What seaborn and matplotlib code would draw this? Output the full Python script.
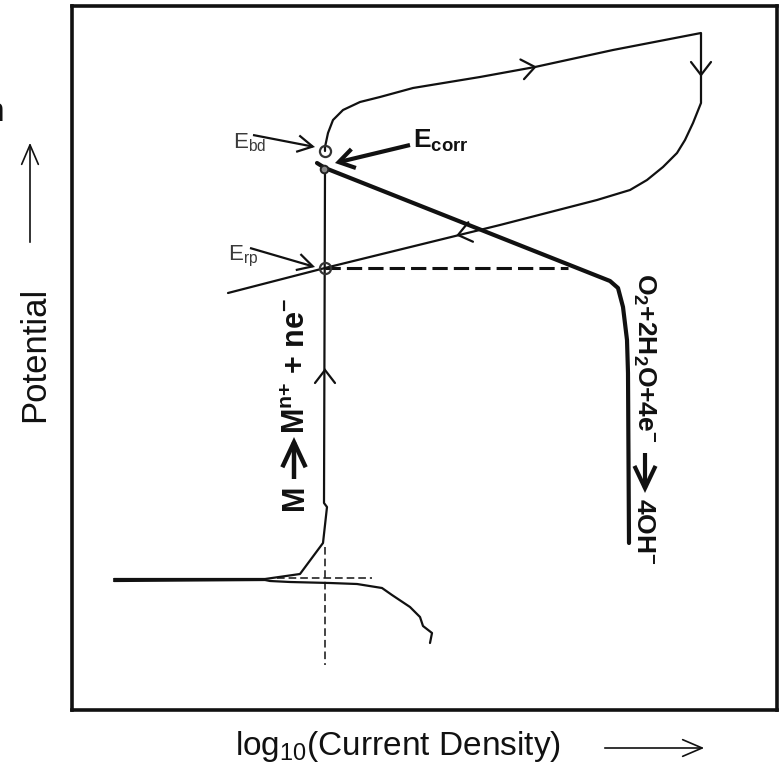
import numpy as np
import pandas as pd
import matplotlib
matplotlib.use("Agg")
import matplotlib.pyplot as plt
from matplotlib.patches import FancyArrowPatch
import seaborn as sns

sns.set_theme(style="white")
plt.rcParams["font.family"] = ["Liberation Sans", "DejaVu Sans"]
plt.rcParams["mathtext.fontset"] = "custom"
plt.rcParams["mathtext.rm"] = "Liberation Sans"
plt.rcParams["mathtext.bf"] = "Liberation Sans:bold"
plt.rcParams["mathtext.it"] = "Liberation Sans:italic"
plt.rcParams["mathtext.sf"] = "Liberation Sans"

INK = "#111111"

# Schematic cyclic polarisation curve (arbitrary units):
# x = log10 current density, E = potential

# active dissolution branch, from the cathodic nose up to E_corr
active_logi = [42, 193, 228, 251, 255, 252, 253]
active_E = [131, 131, 136, 167, 203, 207, 541]

# cathodic tail below the nose
tail_logi = [42, 193, 198, 218, 258, 285, 310, 320, 338, 348, 351, 360, 358]
tail_E = [129, 130, 129, 128, 127, 126, 122, 115, 103, 93, 84, 77, 67]

# forward scan from breakdown to the vertex, then the reverse scan
scan_logi = [253, 253, 256, 261, 271, 288, 308, 341, 408, 463, 541, 629,
             629, 621, 613, 605, 591, 575, 558, 525, 428, 253, 156]
scan_E = [559, 563, 577, 590, 600, 608, 613, 622, 633, 643, 660, 677,
          607, 587, 570, 557, 543, 530, 520, 510, 485, 442, 417]

# oxygen reduction line with its diffusion limit
o2_logi = [245, 253, 538, 546, 551, 555, 556, 557]
o2_E = [547, 542, 429, 422, 403, 370, 337, 167]

# guide lines
erp_dash_logi = [253, 496]
erp_dash_E = [442, 442]
nose_dash_logi = [205, 300]
nose_dash_E = [132, 132]
icorr_dash_logi = [253, 253]
icorr_dash_E = [163, 45]

# characteristic potentials
pt_names = ["E_bd", "E_corr", "E_rp"]
pt_logi = [253, 252, 253]
pt_E = [559, 541, 442]

# direction chevrons: tip point and a point behind it on the curve
chev_tip = [(463, 643), (629, 635), (386, 475), (253, 340)]
chev_back = [(408, 633), (629, 677), (428, 485), (253, 207)]

W, H = 780, 773
fig = plt.figure(figsize=(W / 100, H / 100), dpi=100)
ax = fig.add_axes([72 / W, (H - 710) / H, 705 / W, 704 / H])
ax.set_xlim(0, 705)
ax.set_ylim(0, 704)
ax.set_xticks([])
ax.set_yticks([])
for s in ax.spines.values():
    s.set_color(INK)
    s.set_linewidth(2.6)


def curve(x, y, lw, **kw):
    df = pd.DataFrame({"x": x, "y": y})
    sns.lineplot(data=df, x="x", y="y", sort=False, estimator=None,
                 color=INK, linewidth=lw, ax=ax, **kw)


curve(active_logi, active_E, 1.6)
curve(tail_logi, tail_E, 1.6)
curve(scan_logi, scan_E, 1.6)
curve(o2_logi, o2_E, 3.0)

ax.plot(erp_dash_logi, erp_dash_E, color=INK, lw=2.2, dashes=(5, 2))
ax.plot(nose_dash_logi, nose_dash_E, color=INK, lw=1.1, dashes=(5, 2.6))
ax.plot(icorr_dash_logi, icorr_dash_E, color=INK, lw=1.1, dashes=(5, 2.6))

ax.set_xlabel("")
ax.set_ylabel("")

# circles at the characteristic potentials
ax.plot(pt_logi[0], pt_E[0], "o", ms=8, mfc="none", mec="#333333", mew=1.6)
ax.plot(pt_logi[1], pt_E[1], "o", ms=5.5, mfc="#888888", mec="#222222", mew=1.4)
ax.plot(pt_logi[2], pt_E[2], "o", ms=8, mfc="none", mec="#333333", mew=1.6)


def chevron(tip, back, size=13, spread=10, lw=1.6):
    T = ax.transData
    p = T.transform(tip)
    q = T.transform(back)
    d = p - q
    d = d / np.hypot(*d)
    n = np.array([-d[1], d[0]])
    pts = np.array([p - size * d + spread * n, p, p - size * d - spread * n])
    pts = T.inverted().transform(pts)
    ax.plot(pts[:, 0], pts[:, 1], color=INK, lw=lw,
            solid_capstyle="round", solid_joinstyle="miter")


for t, b in zip(chev_tip, chev_back):
    chevron(t, b)


def arrow(tail, head, lw, hl, hw):
    ax.add_patch(FancyArrowPatch(
        tail, head, arrowstyle=f"->,head_length={hl},head_width={hw}",
        mutation_scale=20, color=INK, lw=lw, shrinkA=0, shrinkB=0,
        joinstyle="miter", capstyle="butt"))


# labels of the characteristic potentials
ax.text(161, 562, r"$\mathrm{E}_{\mathrm{bd}}$", fontsize=16, color="#3a3a3a",
        ha="left", va="baseline")
arrow((181, 575), (243, 563), 1.6, 0.55, 0.3)
ax.text(341, 562, r"$\mathbf{E}_{\mathbf{corr}}$", fontsize=19, color=INK,
        ha="left", va="baseline")
arrow((338, 565), (263, 547), 3.0, 0.55, 0.35)
ax.text(156, 450, r"$\mathrm{E}_{\mathrm{rp}}$", fontsize=16, color="#3a3a3a",
        ha="left", va="baseline")
arrow((178, 462), (243, 443), 1.6, 0.55, 0.3)

# half reactions along the branches
rot = dict(rotation_mode="anchor", ha="left", va="baseline", color=INK)
ax.text(233, 197, r"$\mathbf{M}$", fontsize=22, rotation=90, **rot)
arrow((222, 231), (222, 273), 3.2, 0.9, 0.42)
ax.text(233, 276, r"$\mathbf{M^{n{+}}\ {+}\ ne^{-}}$", fontsize=22,
        rotation=90, **rot)
ax.text(565, 437, r"$\mathbf{O_2{+}2H_2O{+}4e^{-}}$", fontsize=19,
        rotation=-90, **rot)
arrow((573, 257), (573, 217), 3.0, 0.8, 0.38)
ax.text(565, 212, r"$\mathbf{4OH^{-}}$", fontsize=19, rotation=-90, **rot)

# axis titles with direction arrows
fig.text(35 / W, 1 - 354 / H, "Potential", rotation=90, fontsize=25,
         color=INK, ha="center", va="center")
fig.text(398 / W, 1 - 746 / H, r"log$_{10}$(Current Density)", fontsize=24,
         color=INK, ha="center", va="center")
fig.text(4 / W, 1 - 121 / H, "n", fontsize=24, color=INK, ha="right",
         va="baseline")
for tail, head in [((30, H - 245), (30, H - 140)),
                   ((602, H - 748), (707, H - 748))]:
    fig.add_artist(FancyArrowPatch(
        tail, head, transform=None,
        arrowstyle="->,head_length=0.7,head_width=0.3",
        mutation_scale=20, color=INK, lw=1.2))

fig.savefig("out.png", dpi=100, facecolor="white")
